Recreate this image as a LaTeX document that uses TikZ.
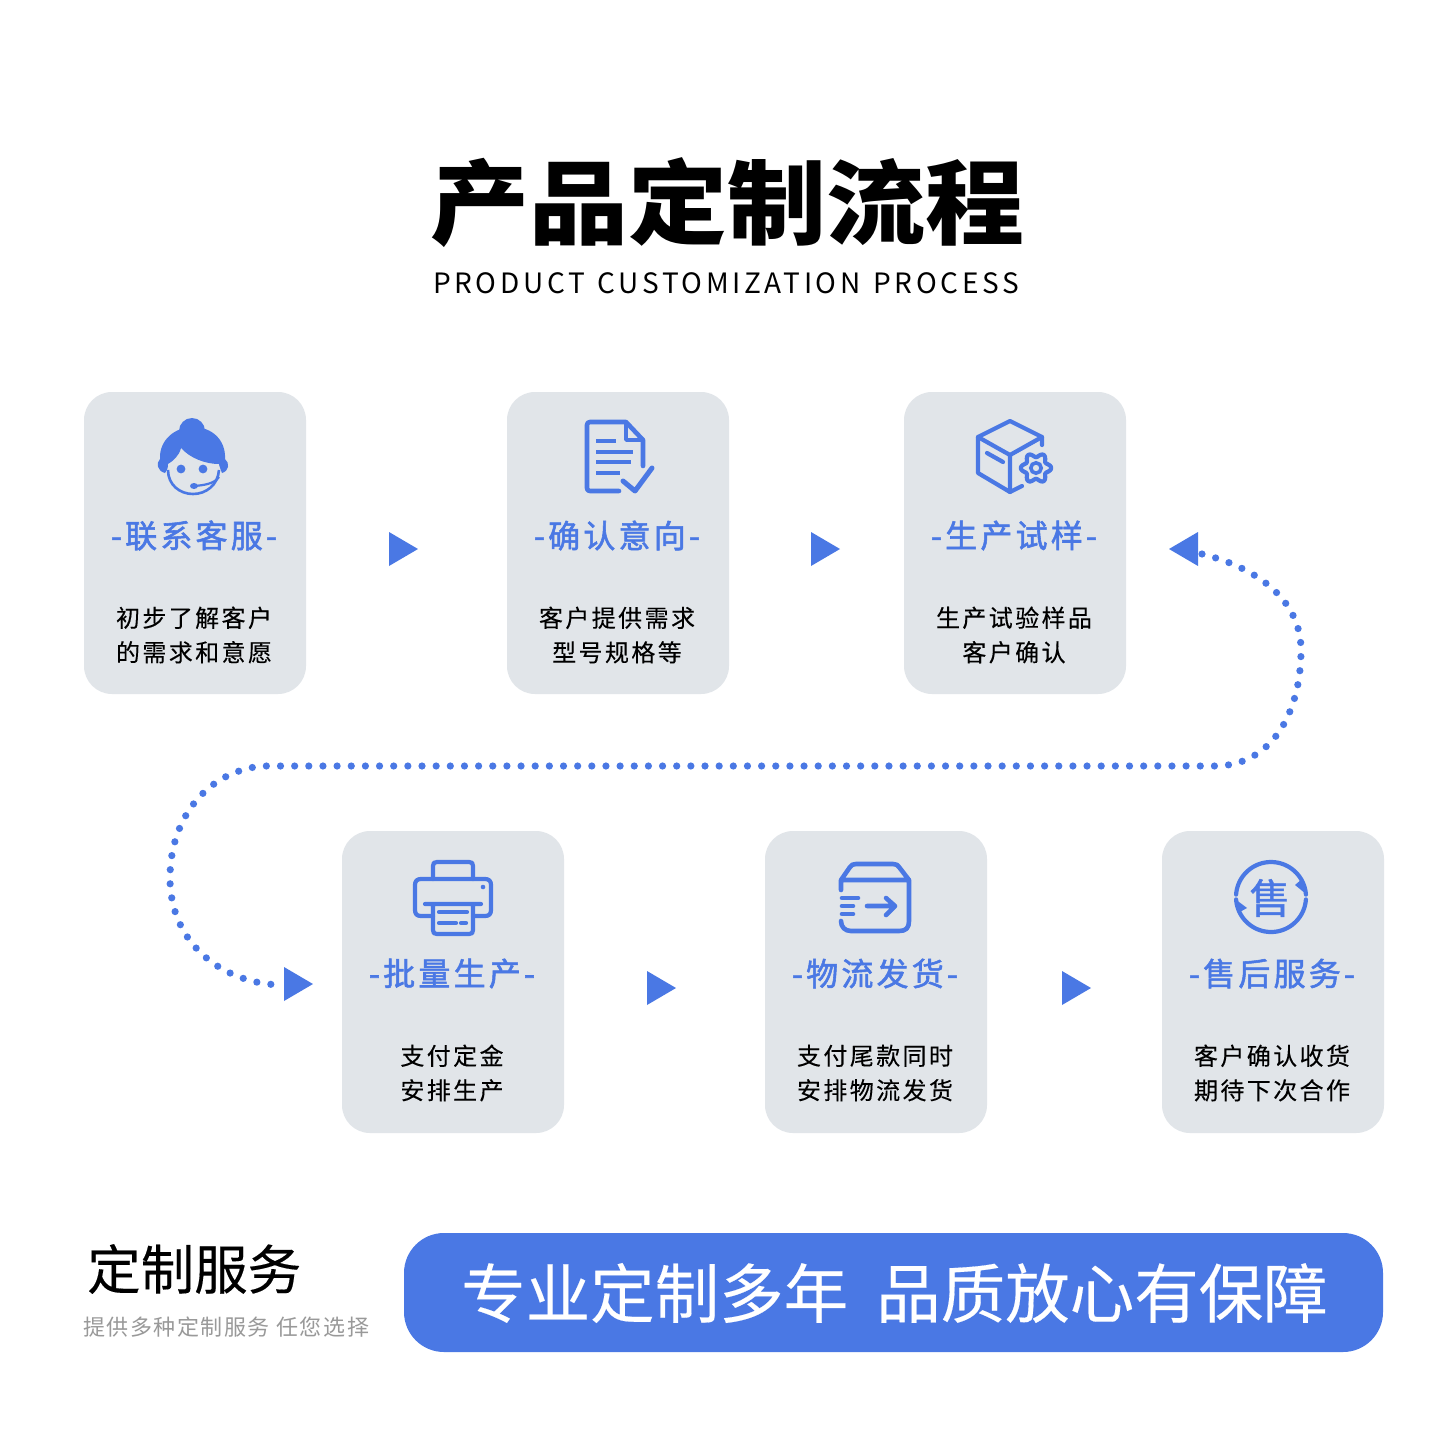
\documentclass[tikz,border=0pt]{standalone}
\usepackage{fontspec}
\setmainfont{Noto Sans CJK SC}
\newfontfamily\bodyf[LetterSpace=10,FakeBold=0.15]{Noto Sans CJK SC}
\newfontfamily\subf[LetterSpace=13,WordSpace=1.3]{Noto Sans CJK SC}
\newfontfamily\headf[LetterSpace=10,FakeBold=1.7]{Noto Sans CJK SC}
\newfontfamily\medf[FakeBold=0.25]{Noto Sans CJK SC}
\newfontfamily\notef[LetterSpace=7]{Noto Sans CJK SC}
\newfontfamily\glyphf[FakeBold=1.2]{Noto Sans CJK SC}
\definecolor{cardgray}{HTML}{E1E5E9}
\definecolor{brand}{HTML}{4A78E4}
\tikzset{
  card/.style={fill=cardgray,rounded corners=28pt},
  icon/.style={draw=brand,line width=4.2pt,line join=round,line cap=round},
  solid ink/.style={fill=brand,draw=none},
  tri/.style={fill=brand,draw=none},
  dotline/.style={draw=brand,line width=7.2pt,line cap=round,dash pattern=on 0pt off 14.15pt},
  head/.style={text=brand,inner sep=0pt,font=\headf\fontsize{32}{36}\selectfont},
  body/.style={text=black,inner sep=0pt,align=center,font=\bodyf\fontsize{24}{34.5}\selectfont},
}
\newcommand{\cardat}[7]{%
  \fill[card] (#1,#2) rectangle ++(222,302);
  \node[head] (#3h) at (#1+110,#7-0.5) {-#4-};
  \node[body] (#3b) at (#1+110,#7+99) {#5\\#6};
}
\begin{document}
\begin{tikzpicture}[x=1pt,y=-1pt]
\useasboundingbox (0,0) rectangle (1440,1440);
\fill[white] (0,0) rectangle (1440,1440);
\node[inner sep=0pt,font=\bfseries\fontsize{99}{110}\selectfont] (title) at (727,203) {\scalebox{1}[0.93]{产品定制流程}};
\node[inner sep=0pt,font=\subf\fontsize{28}{32}\selectfont] (subtitle) at (726,283) {PRODUCT CUSTOMIZATION PROCESS};

\cardat{84}{392}{a}{联系客服}{初步了解客户}{的需求和意愿}{536}
\cardat{507}{392}{b}{确认意向}{客户提供需求}{型号规格等}{536}
\cardat{904}{392}{c}{生产试样}{生产试验样品}{客户确认}{536}
\cardat{342}{831}{d}{批量生产}{支付定金}{安排生产}{974}
\cardat{765}{831}{e}{物流发货}{支付尾款同时}{安排物流发货}{974}
\cardat{1162}{831}{f}{售后服务}{客户确认收货}{期待下次合作}{974}

% triangles
\fill[tri] (389,532)--(418,549)--(389,566)--cycle;
\fill[tri] (811,532)--(840,549)--(811,566)--cycle;
\fill[tri] (1169,549)--(1198,532)--(1198,566)--cycle;
\fill[tri] (284,967)--(313,984)--(284,1001)--cycle;
\fill[tri] (647,971)--(676,988)--(647,1005)--cycle;
\fill[tri] (1062,971)--(1091,988)--(1062,1005)--cycle;

% dotted connector
\coordinate (dstart) at (1202,554);
\coordinate (dend) at (284,985);
\draw[dotline] (dstart) .. controls (1265,570) and (1301,605) .. (1301,650)
  .. controls (1301,715) and (1270,766) .. (1215,766) -- (262,766)
  .. controls (205,772) and (170,820) .. (170,878)
  .. controls (170,945) and (225,985) .. (dend);

% icon 1: agent
\fill[solid ink] (192,431) circle (13);
\draw[brand,line width=2.6pt] (168,470) .. controls (168,485) and (180,494) .. (193,494) .. controls (206,494) and (218,485) .. (219,470);
\fill[solid ink] (165,473) .. controls (157,471) and (156,463) .. (160,459)
  .. controls (159,440) and (175,427) .. (193,427)
  .. controls (212,427) and (226,440) .. (225,459)
  .. controls (230,463) and (229,471) .. (222,473)
  .. controls (220,468) and (219,465) .. (219,464)
  .. controls (205,464) and (190,458) .. (181,448)
  .. controls (179,456) and (173,461) .. (168,464)
  .. controls (168,468) and (167,471) .. (165,473) -- cycle;
\fill[solid ink] (181,469) circle (4.4) (203,469) circle (4.4);
\draw[brand,line width=2.2pt] (219,477) .. controls (214,484) and (204,485) .. (195,486);
\fill[solid ink] (194,486) ellipse (4 and 3);

% icon 2: document
\draw[icon,line width=4.6pt] (643,466) -- (643,440) -- (626,422) -- (590,422) .. controls (588,422) and (587,423) .. (587,425) -- (587,488) .. controls (587,490) and (588,491) .. (590,491) -- (619,491);
\draw[icon,line width=3.6pt] (626,422) -- (626,440) -- (643,440);
\draw[brand,line width=4.6pt] (596,441) -- (616,441) (596,452) -- (633,452) (596,462) -- (631,462) (596,473) -- (620,473);
\draw[icon,line width=5pt] (623,481) -- (635,491) -- (652,468);

% icon 3: box + gear
\draw[icon] (1042,445) -- (1042,437) -- (1010,421) -- (978,437) -- (978,473) -- (1010,492) -- (1022,486);
\draw[icon] (978,437) -- (1010,455) -- (1042,437) (1010,455) -- (1010,492) (987,453) -- (1003,462);
\draw[icon] plot[smooth cycle,samples=73,domain=0:355] ({1036+(13+2.2*cos(6*\x))*cos(\x)},{468+(13+2.2*cos(6*\x))*sin(\x)});
\draw[brand,line width=3.6pt] (1036,468) circle (5.2);

% icon 4: printer
\draw[icon] (433,879) -- (433,866) .. controls (433,863) and (434,862) .. (437,862) -- (469,862) .. controls (472,862) and (473,863) .. (473,866) -- (473,879);
\draw[icon] (433,916) -- (421,916) .. controls (417,916) and (415,914) .. (415,910) -- (415,885) .. controls (415,881) and (417,879) .. (421,879) -- (485,879) .. controls (489,879) and (491,881) .. (491,885) -- (491,910) .. controls (491,914) and (489,916) .. (485,916) -- (473,916);
\draw[icon] (425,904) -- (481,904) (433,904) -- (433,930) .. controls (433,933) and (434,934) .. (437,934) -- (469,934) .. controls (472,934) and (473,933) .. (473,930) -- (473,904);
\draw[icon] (439,912) -- (467,912) (439,923) -- (456,923) (461,923) -- (466,923);
\fill[solid ink] (483,887) circle (2.3);

% icon 5: parcel
\draw[icon,line width=4.6pt] (841,890) -- (841,880) -- (909,880) (841,880) -- (850,867) .. controls (851,865) and (853,864) .. (856,864) -- (893,864) .. controls (896,864) and (898,865) .. (899,867) -- (909,880) -- (909,921) .. controls (909,928) and (906,931) .. (899,931) -- (851,931) .. controls (845,931) and (841,927) .. (841,921);
\draw[icon,line width=4.6pt] (842,898) -- (858,898) (842,906) -- (853,906) (842,914) -- (853,914);
\draw[icon,line width=4.6pt] (867,906) -- (895,906) (886,898) -- (895,906) -- (886,915);

% icon 6: after-sale
\draw[icon] plot[smooth,samples=40,domain=184:356] ({1271+35*cos(\x)},{897+35*sin(\x)});
\draw[icon] plot[smooth,samples=40,domain=4:176] ({1271+35*cos(\x)},{897+35*sin(\x)});
\fill[solid ink] (1295,885) -- (1306,894) -- (1302,879) -- cycle;
\fill[solid ink] (1235,899) -- (1247,908) -- (1238,913) -- cycle;
\node[text=brand,inner sep=0pt,font=\glyphf\fontsize{41}{44}\selectfont] (shou) at (1270,898) {售};

% footer
\node[inner sep=0pt,anchor=west,font=\medf\fontsize{53.5}{56}\selectfont,text=black] (ft1) at (87,1269) {定制服务};
\node[inner sep=0pt,anchor=west,font=\notef\fontsize{22}{26}\selectfont,text=black!40] (ft2) at (83,1327) {提供多种定制服务 任您选择};
\fill[brand,rounded corners=40pt] (404,1233) rectangle (1383,1352);
\node[inner sep=0pt,anchor=west,text=white,font=\medf\fontsize{64.5}{68}\selectfont] (ban) at (461,1293) {专业定制多年\hspace{28pt}品质放心有保障};
\end{tikzpicture}
\end{document}
